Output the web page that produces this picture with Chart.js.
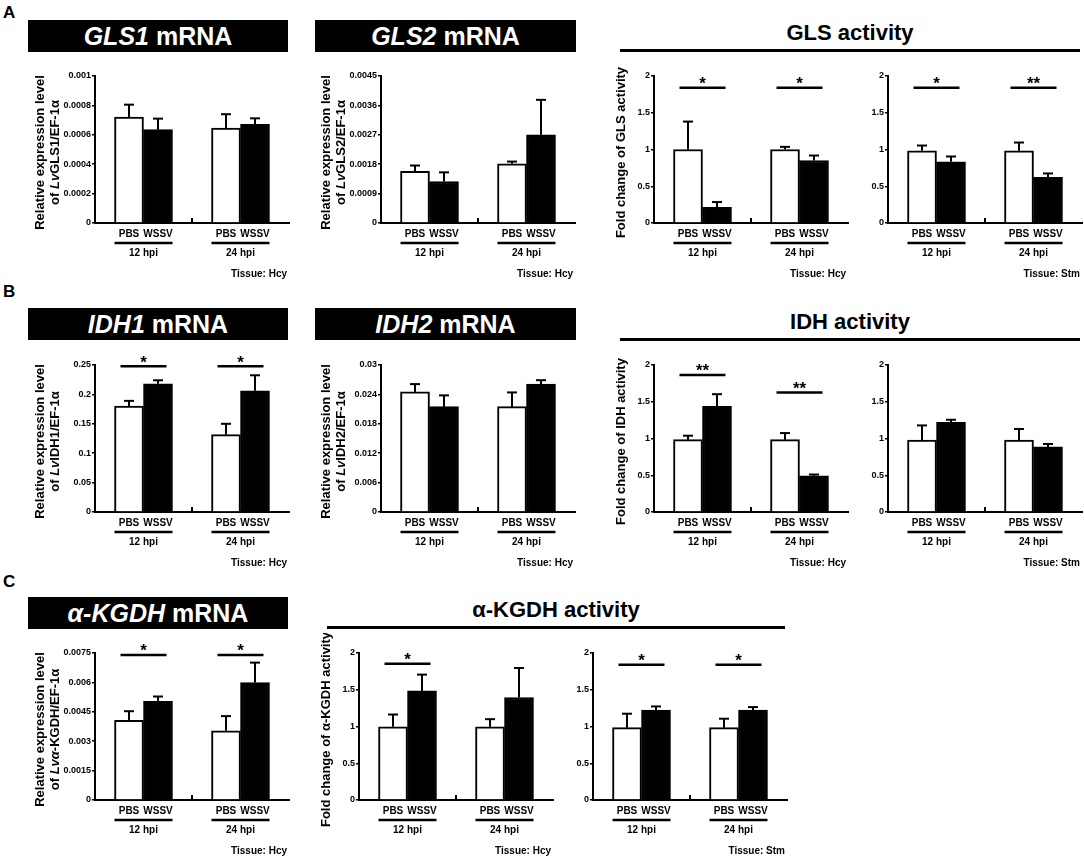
<!DOCTYPE html>
<html>
<head>
<meta charset="utf-8">
<script src="https://cdn.jsdelivr.net/npm/chart.js@4.4.1/dist/chart.umd.min.js"></script>
<style>
body { margin: 0; background: #fff; overflow: hidden; }
#fig { position: relative; width: 1084px; height: 857px; font-family: Arial, "Liberation Sans", sans-serif; font-weight: bold; color: #000; }
.letter { position: absolute; left: 3px; font-size: 17px; line-height: 17px; }
.box { position: absolute; height: 32px; line-height: 33px; background: #000; color: #fff; font-size: 25px; text-align: center; }
.head { position: absolute; height: 26px; line-height: 26px; padding-bottom: 3px; border-bottom: 3px solid #000; font-size: 22px; text-align: center; }
.plot { position: absolute; width: 271px; height: 230px; }
</style>
</head>
<body>
<div id="fig">
  <div class="letter" style="top:4px">A</div>
  <div class="box" style="left:28px;top:20px;width:260px"><i>GLS1</i> mRNA</div>
  <div class="box" style="left:315px;top:20px;width:261px"><i>GLS2</i> mRNA</div>
  <div class="head" style="left:620px;top:20px;width:460px">GLS activity</div>

  <div class="letter" style="top:283px">B</div>
  <div class="box" style="left:28px;top:308px;width:260px"><i>IDH1</i> mRNA</div>
  <div class="box" style="left:315px;top:308px;width:261px"><i>IDH2</i> mRNA</div>
  <div class="head" style="left:620px;top:309px;width:460px">IDH activity</div>

  <div class="letter" style="top:573px">C</div>
  <div class="box" style="left:28px;top:597px;width:260px"><i>α-KGDH</i> mRNA</div>
  <div class="head" style="left:327px;top:597px;width:458px">α-KGDH activity</div>
</div>

<script>
// categories
const groups = ['12 hpi', '24 hpi'];
const treatments = ['PBS', 'WSSV'];

// tick labels
const gls1Ticks = ['0', '0.0002', '0.0004', '0.0006', '0.0008', '0.001'];
const gls2Ticks = ['0', '0.0009', '0.0018', '0.0027', '0.0036', '0.0045'];
const idh1Ticks = ['0', '0.05', '0.1', '0.15', '0.2', '0.25'];
const idh2Ticks = ['0', '0.006', '0.012', '0.018', '0.024', '0.03'];
const kgdhTicks = ['0', '0.0015', '0.003', '0.0045', '0.006', '0.0075'];
const foldTicks = ['0', '0.5', '1', '1.5', '2'];

// means and SD, [12 hpi, 24 hpi]
const gls1Pbs = [0.00072, 0.000645], gls1PbsSd = [0.000085, 0.000095];
const gls1Wssv = [0.000635, 0.000672], gls1WssvSd = [0.000075, 0.00004];
const gls2Pbs = [0.00158, 0.00181], gls2PbsSd = [0.00018, 0.00007];
const gls2Wssv = [0.00127, 0.0027], gls2WssvSd = [0.00028, 0.00107];
const glsHcyPbs = [1.0, 1.0], glsHcyPbsSd = [0.38, 0.036];
const glsHcyWssv = [0.213, 0.85], glsHcyWssvSd = [0.072, 0.068];
const glsStmPbs = [0.982, 0.982], glsStmPbsSd = [0.072, 0.113];
const glsStmWssv = [0.833, 0.62], glsStmWssvSd = [0.072, 0.054];

const idh1Pbs = [0.18, 0.1315], idh1PbsSd = [0.009, 0.0185];
const idh1Wssv = [0.218, 0.206], idh1WssvSd = [0.006, 0.0265];
const idh2Pbs = [0.0245, 0.0215], idh2PbsSd = [0.0016, 0.0029];
const idh2Wssv = [0.0215, 0.0261], idh2WssvSd = [0.0023, 0.0008];
const idhHcyPbs = [0.984, 0.984], idhHcyPbsSd = [0.054, 0.09];
const idhHcyWssv = [1.436, 0.492], idhHcyWssvSd = [0.167, 0.018];
const idhStmPbs = [0.98, 0.98], idhStmPbsSd = [0.198, 0.149];
const idhStmWssv = [1.219, 0.885], idhStmWssvSd = [0.036, 0.04];

const kgdhPbs = [0.00407, 0.00353], kgdhPbsSd = [0.00046, 0.00075];
const kgdhWssv = [0.00504, 0.00599], kgdhWssvSd = [0.00024, 0.00102];
const kgdhHcyPbs = [0.995, 0.995], kgdhHcyPbsSd = [0.168, 0.105];
const kgdhHcyWssv = [1.484, 1.394], kgdhHcyWssvSd = [0.222, 0.402];
const kgdhStmPbs = [0.984, 0.984], kgdhStmPbsSd = [0.19, 0.122];
const kgdhStmWssv = [1.223, 1.223], kgdhStmWssvSd = [0.05, 0.041];

// significance marks per group ('' = none) and the level of their bar
const glsHcySig = ['*', '*'], glsHcySigAt = [1.84, 1.84];
const glsStmSig = ['*', '**'], glsStmSigAt = [1.84, 1.84];
const idh1Sig = ['*', '*'], idh1SigAt = [0.248, 0.248];
const idhHcySig = ['**', '**'], idhHcySigAt = [1.865, 1.625];
const kgdhSig = ['*', '*'], kgdhSigAt = [0.0074, 0.0074];
const kgdhHcySig = ['*', ''], kgdhHcySigAt = [1.855, 0];
const kgdhStmSig = ['*', '*'], kgdhStmSigAt = [1.84, 1.84];

const FONT = 'Arial, "Liberation Sans", sans-serif';
Chart.defaults.color = '#000';
Chart.defaults.font.family = FONT;

function f(size, italic) {
  return (italic ? 'italic ' : '') + 'bold ' + size + 'px ' + FONT;
}

function richLine(ctx, segs, cy) {
  let w = 0;
  segs.forEach(s => { ctx.font = f(13, s[1]); w += ctx.measureText(s[0]).width; });
  let x = -w / 2;
  segs.forEach(s => {
    ctx.font = f(13, s[1]);
    ctx.fillText(s[0], x, cy);
    x += ctx.measureText(s[0]).width;
  });
}

function stroke(ctx, x1, y1, x2, y2, w) {
  ctx.lineWidth = w;
  ctx.beginPath();
  ctx.moveTo(x1, y1);
  ctx.lineTo(x2, y2);
  ctx.stroke();
}

const annotate = {
  id: 'annotate',
  afterDatasetsDraw(chart) {
    const { ctx, chartArea: a, scales: { x, y } } = chart;
    const o = chart.options.plugins.annotate;
    ctx.save();
    ctx.strokeStyle = '#000';
    ctx.fillStyle = '#000';

    // error bars (upper only)
    chart.data.datasets.forEach((ds, di) => {
      chart.getDatasetMeta(di).data.forEach((bar, i) => {
        const top = y.getPixelForValue(ds.data[i] + ds.sd[i]);
        stroke(ctx, bar.x, bar.y, bar.x, top, 2);
        stroke(ctx, bar.x - 5, top, bar.x + 5, top, 2);
      });
    });

    // small tick between the two time points
    const mid = (x.getPixelForValue(0) + x.getPixelForValue(1)) / 2;
    stroke(ctx, mid, a.bottom, mid, a.bottom - 5, 2);

    const pbsBars = chart.getDatasetMeta(0).data;
    const wssvBars = chart.getDatasetMeta(1).data;
    ctx.textAlign = 'center';

    groups.forEach((g, i) => {
      const cx = x.getPixelForValue(i);
      const left = pbsBars[i].x - pbsBars[i].width / 2;
      const right = wssvBars[i].x + wssvBars[i].width / 2;
      ctx.textBaseline = 'middle';
      ctx.font = f(10);
      ctx.fillText(treatments[0], pbsBars[i].x, a.bottom + 11);
      ctx.fillText(treatments[1], wssvBars[i].x, a.bottom + 11);
      stroke(ctx, left, a.bottom + 20, right, a.bottom + 20, 2.5);
      ctx.fillText(g, cx, a.bottom + 30);

      // significance
      if (o.sig && o.sig[i]) {
        const sy = y.getPixelForValue(o.sigAt[i]);
        stroke(ctx, cx - 23, sy, cx + 23, sy, 2.5);
        ctx.textBaseline = 'alphabetic';
        ctx.font = f(17);
        ctx.fillText(o.sig[i], cx, sy + 1.5);
      }
    });

    ctx.textBaseline = 'middle';
    ctx.textAlign = 'right';
    ctx.font = f(10);
    ctx.fillText('Tissue: ' + o.tissue, a.right - 2, a.bottom + 51);

    // y axis title
    const n = o.title.length;
    ctx.textAlign = 'left';
    ctx.translate(a.left - (n === 2 ? 47.5 : 33), (a.top + a.bottom) / 2 + 3);
    ctx.rotate(-Math.PI / 2);
    o.title.forEach((segs, li) => richLine(ctx, segs, (li - (n - 1) / 2) * 15));
    ctx.restore();
  }
};

function makeChart(left, top, c) {
  const div = document.createElement('div');
  div.className = 'plot';
  div.style.left = (left - 75) + 'px';
  div.style.top = (top + 56) + 'px';
  const cv = document.createElement('canvas');
  div.appendChild(cv);
  document.getElementById('fig').appendChild(div);

  const tickVals = c.ticks.map(Number);
  new Chart(cv.getContext('2d'), {
    type: 'bar',
    data: {
      labels: groups,
      datasets: [
        { label: treatments[0], data: c.pbs, sd: c.pbsSd, backgroundColor: '#fff', borderColor: '#000', borderWidth: 2 },
        { label: treatments[1], data: c.wssv, sd: c.wssvSd, backgroundColor: '#000', borderColor: '#000', borderWidth: 2 }
      ]
    },
    options: {
      responsive: true,
      maintainAspectRatio: false,
      animation: false,
      layout: { padding: { top: 20, bottom: 63, left: 0, right: 2 } },
      datasets: { bar: { barThickness: 29 } },
      scales: {
        x: {
          grid: { display: false, drawTicks: false },
          ticks: { display: false },
          border: { display: true, color: '#000', width: 2 },
          afterFit: s => { s.height = 0; }
        },
        y: {
          min: 0,
          max: tickVals[tickVals.length - 1],
          afterBuildTicks: s => { s.ticks = tickVals.map(v => ({ value: v })); },
          ticks: { font: { size: 9, weight: 'bold' }, padding: 1, callback: (v, i) => c.ticks[i] },
          grid: { drawOnChartArea: false, color: '#000', lineWidth: 1.5, tickLength: 3 },
          border: { display: true, color: '#000', width: 2 },
          afterFit: s => { s.width = 75; }
        }
      },
      plugins: {
        legend: { display: false },
        tooltip: { enabled: false },
        annotate: { tissue: c.tissue, title: c.title, sig: c.sig, sigAt: c.sigAt }
      }
    },
    plugins: [annotate]
  });
}

const relTitle = gene => [[['Relative expression level', 0]], [['of ', 0], ['Lv', 1], [gene + '/EF-1α', 0]]];
const foldTitle = name => [[['Fold change of ' + name + ' activity', 0]]];

const rowA = 0, rowB = 289, rowC = 577;

makeChart(95, rowA, { pbs: gls1Pbs, pbsSd: gls1PbsSd, wssv: gls1Wssv, wssvSd: gls1WssvSd, ticks: gls1Ticks, title: relTitle('GLS1'), tissue: 'Hcy' });
makeChart(381, rowA, { pbs: gls2Pbs, pbsSd: gls2PbsSd, wssv: gls2Wssv, wssvSd: gls2WssvSd, ticks: gls2Ticks, title: relTitle('GLS2'), tissue: 'Hcy' });
makeChart(654, rowA, { pbs: glsHcyPbs, pbsSd: glsHcyPbsSd, wssv: glsHcyWssv, wssvSd: glsHcyWssvSd, ticks: foldTicks, title: foldTitle('GLS'), tissue: 'Hcy', sig: glsHcySig, sigAt: glsHcySigAt });
makeChart(888, rowA, { pbs: glsStmPbs, pbsSd: glsStmPbsSd, wssv: glsStmWssv, wssvSd: glsStmWssvSd, ticks: foldTicks, title: [], tissue: 'Stm', sig: glsStmSig, sigAt: glsStmSigAt });

makeChart(95, rowB, { pbs: idh1Pbs, pbsSd: idh1PbsSd, wssv: idh1Wssv, wssvSd: idh1WssvSd, ticks: idh1Ticks, title: relTitle('IDH1'), tissue: 'Hcy', sig: idh1Sig, sigAt: idh1SigAt });
makeChart(381, rowB, { pbs: idh2Pbs, pbsSd: idh2PbsSd, wssv: idh2Wssv, wssvSd: idh2WssvSd, ticks: idh2Ticks, title: relTitle('IDH2'), tissue: 'Hcy' });
makeChart(654, rowB, { pbs: idhHcyPbs, pbsSd: idhHcyPbsSd, wssv: idhHcyWssv, wssvSd: idhHcyWssvSd, ticks: foldTicks, title: foldTitle('IDH'), tissue: 'Hcy', sig: idhHcySig, sigAt: idhHcySigAt });
makeChart(888, rowB, { pbs: idhStmPbs, pbsSd: idhStmPbsSd, wssv: idhStmWssv, wssvSd: idhStmWssvSd, ticks: foldTicks, title: [], tissue: 'Stm' });

makeChart(95, rowC, { pbs: kgdhPbs, pbsSd: kgdhPbsSd, wssv: kgdhWssv, wssvSd: kgdhWssvSd, ticks: kgdhTicks, title: [[['Relative expression level', 0]], [['of ', 0], ['Lvα', 1], ['-KGDH/EF-1α', 0]]], tissue: 'Hcy', sig: kgdhSig, sigAt: kgdhSigAt });
makeChart(359, rowC, { pbs: kgdhHcyPbs, pbsSd: kgdhHcyPbsSd, wssv: kgdhHcyWssv, wssvSd: kgdhHcyWssvSd, ticks: foldTicks, title: foldTitle('α-KGDH'), tissue: 'Hcy', sig: kgdhHcySig, sigAt: kgdhHcySigAt });
makeChart(593, rowC, { pbs: kgdhStmPbs, pbsSd: kgdhStmPbsSd, wssv: kgdhStmWssv, wssvSd: kgdhStmWssvSd, ticks: foldTicks, title: [], tissue: 'Stm', sig: kgdhStmSig, sigAt: kgdhStmSigAt });
</script>
</body>
</html>
